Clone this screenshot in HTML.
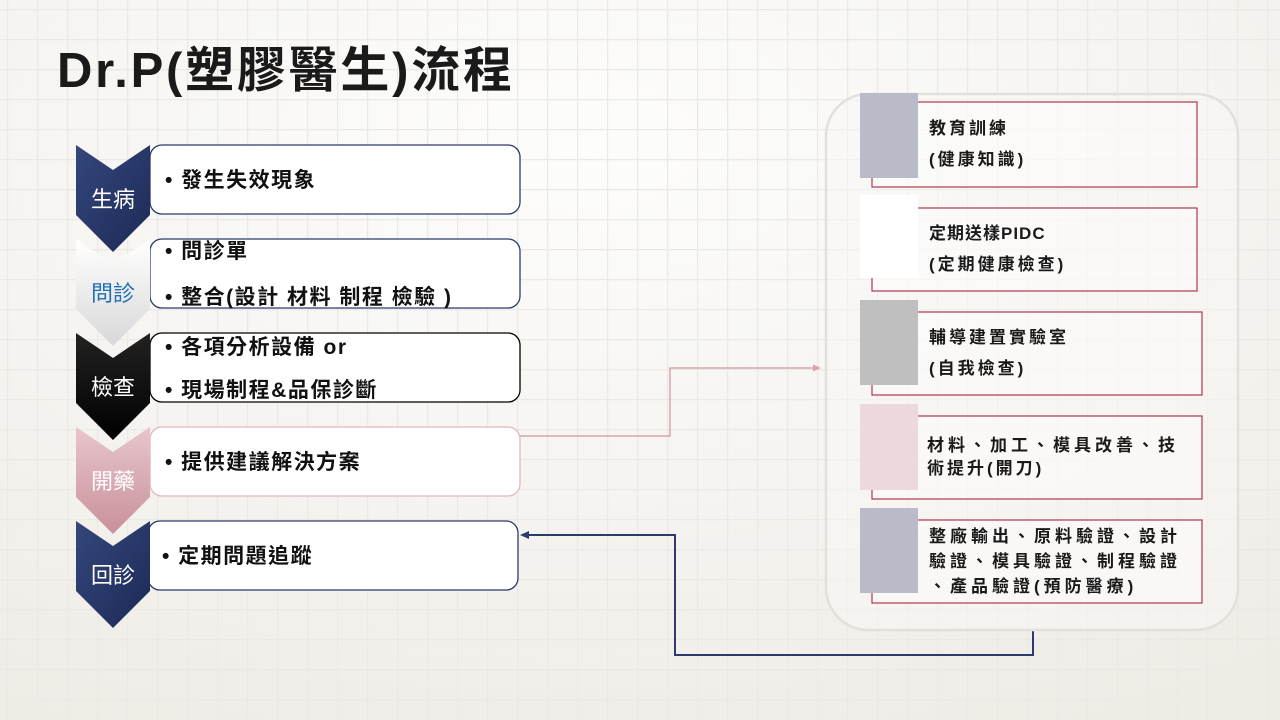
<!DOCTYPE html>
<html><head><meta charset="utf-8"><style>
html,body{margin:0;padding:0}
body{width:1280px;height:720px;overflow:hidden;background:#f6f4f0}
svg{display:block}
text{font-family:"Liberation Sans","Noto Sans CJK TC",sans-serif}
</style></head><body>
<svg width="1280" height="720" viewBox="0 0 1280 720" xmlns="http://www.w3.org/2000/svg">
<defs>
<pattern id="grid" x="7" y="9" width="30" height="30" patternUnits="userSpaceOnUse">
<path d="M0 0H30M0 0V30" stroke="#ebe9e5" stroke-width="2.5" fill="none"/>
</pattern>
<radialGradient id="bg" cx="0.45" cy="0.2" r="0.9">
<stop offset="0" stop-color="#fdfdfc"/><stop offset="1" stop-color="#efece6"/>
</radialGradient>
<linearGradient id="navy" x1="0" y1="0" x2="1" y2="1"><stop offset="0" stop-color="#34477c"/><stop offset="1" stop-color="#1c2955"/></linearGradient>
<linearGradient id="wht" x1="0" y1="0" x2="0" y2="1"><stop offset="0" stop-color="#ffffff"/><stop offset="1" stop-color="#d8d8d8"/></linearGradient>
<linearGradient id="blk" x1="0" y1="0" x2="0" y2="1"><stop offset="0" stop-color="#222"/><stop offset="1" stop-color="#000"/></linearGradient>
<linearGradient id="pnk" x1="0" y1="0" x2="0" y2="1"><stop offset="0" stop-color="#e8c6cc"/><stop offset="1" stop-color="#c9909b"/></linearGradient>
</defs>
<rect width="1280" height="720" fill="url(#bg)"/>
<rect width="1280" height="720" fill="url(#grid)"/>

<text x="57" y="87" font-size="49" font-weight="bold" fill="#1a1a1a" textLength="455" lengthAdjust="spacing">Dr.P(塑膠醫生)流程</text>

<g fill="#fff" stroke-width="1.3">
<rect x="150" y="145" width="370" height="69" rx="12" stroke="#2c3b6b"/>
<rect x="150" y="239" width="370" height="69" rx="12" stroke="#2c3b6b"/>
<rect x="150" y="333" width="370" height="69" rx="12" stroke="#000"/>
<rect x="150" y="427" width="370" height="69" rx="12" stroke="#e0b8c0"/>
<rect x="148" y="521" width="370" height="69" rx="12" stroke="#2c3b6b"/>
</g>
<path d="M76 145 L113 170 L150 145 L150 215 L113 252 L76 215 Z" fill="url(#navy)"/>
<path d="M76 239 L113 264 L150 239 L150 309 L113 346 L76 309 Z" fill="url(#wht)"/>
<path d="M76 333 L113 358 L150 333 L150 403 L113 440 L76 403 Z" fill="url(#blk)"/>
<path d="M76 427 L113 452 L150 427 L150 497 L113 534 L76 497 Z" fill="url(#pnk)"/>
<path d="M76 521 L113 546 L150 521 L150 591 L113 628 L76 591 Z" fill="url(#navy)"/>
<g font-size="22" text-anchor="middle">
<text x="113" y="207" fill="#fff">生病</text>
<text x="113" y="301" fill="#1f6fb5">問診</text>
<text x="113" y="395" fill="#fff">檢查</text>
<text x="113" y="489" fill="#fff">開藥</text>
<text x="113" y="583" fill="#fff">回診</text>
</g>
<g font-size="21" fill="#111" font-weight="bold" letter-spacing="1.5">
<text x="165" y="187">• 發生失效現象</text>
<text x="165" y="258">• 問診單</text>
<text x="165" y="304">• 整合(設計 材料 制程 檢驗 )</text>
<text x="165" y="354">• 各項分析設備 or</text>
<text x="165" y="397">• 現場制程&amp;品保診斷</text>
<text x="165" y="469">• 提供建議解決方案</text>
<text x="162" y="563">• 定期問題追蹤</text>
</g>

<path d="M520 436 H670 V368 H814" fill="none" stroke="#d9a3ad" stroke-width="1.5"/>
<path d="M821 368 L813 364.5 L813 371.5 Z" fill="#d9a3ad"/>
<path d="M1033 630 V655 H675 V535 H528" fill="none" stroke="#2c3b6b" stroke-width="2"/>
<path d="M520 535 L529 531 L529 539 Z" fill="#2c3b6b"/>

<rect x="826" y="94" width="412" height="536" rx="42" fill="#f9f8f6" fill-opacity="0.5" stroke="#e2e0dc" stroke-width="2.5"/>
<g fill="#fff" fill-opacity="0.4" stroke="#b0364f" stroke-width="1.2">
<rect x="872" y="102" width="325" height="85"/>
<rect x="872" y="208" width="325" height="83"/>
<rect x="872" y="312" width="330" height="83"/>
<rect x="872" y="416" width="330" height="83"/>
<rect x="872" y="520" width="330" height="83"/>
</g>
<rect x="860" y="93" width="58" height="85" fill="#b9bcc8"/>
<rect x="860" y="195" width="58" height="83" fill="#ffffff"/>
<rect x="860" y="300" width="58" height="85" fill="#bfbfbf"/>
<rect x="860" y="404" width="58" height="86" fill="#ecd9dd"/>
<rect x="860" y="508" width="58" height="85" fill="#b9bcc8"/>
<g font-size="17" fill="#1a1a1a" font-weight="bold" letter-spacing="3">
<text x="929" y="134">教育訓練</text>
<text x="929" y="165">(健康知識)</text>
<text x="929" y="239" letter-spacing="1">定期送樣PIDC</text>
<text x="929" y="270">(定期健康檢查)</text>
<text x="929" y="343">輔導建置實驗室</text>
<text x="929" y="374">(自我檢查)</text>
<text x="927" y="451" letter-spacing="4">材料、加工、模具改善、技</text>
<text x="927" y="474">術提升(開刀)</text>
<text x="929" y="542" letter-spacing="4">整廠輸出、原料驗證、設計</text>
<text x="929" y="567" letter-spacing="4">驗證、模具驗證、制程驗證</text>
<text x="929" y="592" letter-spacing="4">、產品驗證(預防醫療)</text>
</g>
</svg>
</body></html>
